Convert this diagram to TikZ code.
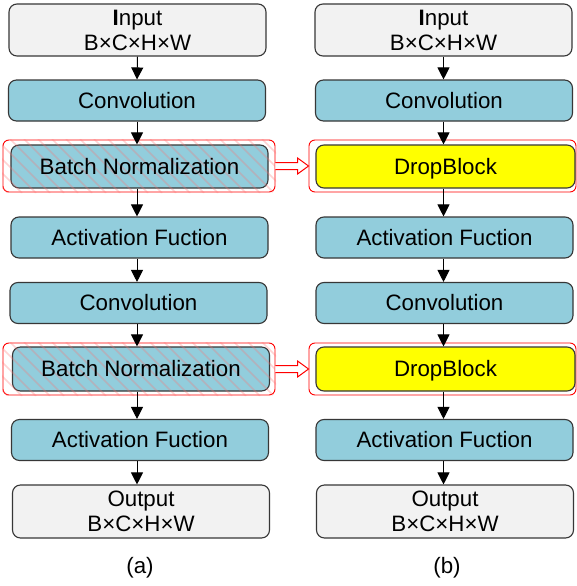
\documentclass[tikz,border=0pt]{standalone}
\usepackage{fontspec}
\setmainfont{Liberation Sans}
\usetikzlibrary{arrows.meta,calc}
\definecolor{boxblue}{RGB}{146,205,220}
\definecolor{boxgray}{RGB}{242,242,242}
\definecolor{edgegray}{RGB}{55,55,55}
\definecolor{dbyellow}{RGB}{255,255,0}
\begin{document}
\begin{tikzpicture}[x=1pt,y=-1pt,
  base/.style={draw=edgegray, line width=1.1pt, rounded corners=8pt, align=center,
    inner sep=0pt, font=\fontsize{22.3}{25}\selectfont, minimum width=257pt},
  one/.style={text height=20.2pt, text depth=4.7pt},
  graybox/.style={base, fill=boxgray, minimum height=52pt},
  bluebox/.style={base, one, fill=boxblue, minimum height=41pt},
  yellowbox/.style={base, one, fill=dbyellow, minimum height=43pt, minimum width=259pt},
  redbox/.style={draw=red, line width=0.9pt, rounded corners=6pt, inner sep=0pt},
  flow/.style={-{Triangle[length=12pt,width=12pt]}, line width=1pt, black},
  hollow/.style={draw=red, fill=white, line width=1pt, line join=miter},
  stripe/.style={red!55, line width=1.6pt, opacity=0.3},
  lab/.style={font=\fontsize{22.3}{25}\selectfont}
]
\useasboundingbox (0,0) rectangle (577,586);
\fill[white] (0,0) rectangle (577,586);

% ---------- left column (a) ----------
\node[graybox] (ain) at (137.5,30) {\textbf{I}nput\\B×C×H×W};
\node[bluebox] (aconv1) at (137,100.5) {Convolution};
\node[redbox, minimum width=272pt, minimum height=52pt] (abnout1) at (139,166) {};
\node[bluebox, minimum height=43pt] (abn1) at (139.5,166.5) {};
\begin{scope}
  \clip[rounded corners=6pt] (2,139) rectangle (276,193);
  \foreach \k in {-60,-46,...,290} {
    \draw[stripe] (\k,139) -- ++(54,54);
  }
\end{scope}
\node[font=\fontsize{22.3}{25}\selectfont, one, inner sep=0pt] (abn1t) at (abn1) {Batch Normalization};
\node[bluebox] (aact1) at (139.5,237.5) {Activation Fuction};
\node[bluebox] (aconv2) at (138.5,303) {Convolution};
\node[redbox, minimum width=272pt, minimum height=52pt] (abnout2) at (139,369) {};
\node[bluebox, minimum height=44pt] (abn2) at (141,369) {};
\begin{scope}
  \clip[rounded corners=6pt] (2,342) rectangle (276,396);
  \foreach \k in {-60,-46,...,290} {
    \draw[stripe] (\k,342) -- ++(54,54);
  }
\end{scope}
\node[font=\fontsize{22.3}{25}\selectfont, one, inner sep=0pt] (abn2t) at (abn2) {Batch Normalization};
\node[bluebox] (aact2) at (140,440) {Activation Fuction};
\node[graybox, minimum height=53pt] (aout) at (141,511.5) {Output\\B×C×H×W};
\node[lab] (alab) at (140,568) {(a)};

\draw[flow] (ain.south) -- (aconv1.north);
\draw[flow] (aconv1.south) -- (aconv1.south |- abn1.north);
\draw[flow] (aconv1.south |- abn1.south) -- (aconv1.south |- aact1.north);
\draw[flow] (aconv1.south |- aact1.south) -- (aconv1.south |- aconv2.north);
\draw[flow] (aconv1.south |- aconv2.south) -- (aconv1.south |- abn2.north);
\draw[flow] (aconv1.south |- abn2.south) -- (aconv1.south |- aact2.north);
\draw[flow] (aconv1.south |- aact2.south) -- (aconv1.south |- aout.north);

% ---------- right column (b) ----------
\node[graybox] (bin) at (443.5,30) {\textbf{I}nput\\B×C×H×W};
\node[bluebox] (bconv1) at (444,100.5) {Convolution};
\node[redbox, minimum width=267pt, minimum height=52pt] (bdbout1) at (442.5,166) {};
\node[yellowbox] (bdb1) at (445.5,166.5) {DropBlock};
\node[bluebox] (bact1) at (444.5,237.5) {Activation Fuction};
\node[bluebox] (bconv2) at (444.5,303) {Convolution};
\node[redbox, minimum width=267pt, minimum height=52pt] (bdbout2) at (442.5,369) {};
\node[yellowbox, minimum height=44pt] (bdb2) at (445.5,369) {DropBlock};
\node[bluebox] (bact2) at (444.5,440) {Activation Fuction};
\node[graybox, minimum height=53pt] (bout) at (445,511.5) {Output\\B×C×H×W};
\node[lab] (blab) at (447,568) {(b)};

\draw[flow] (bin.south) -- (bin.south |- bconv1.north);
\draw[flow] (bin.south |- bconv1.south) -- (bin.south |- bdb1.north);
\draw[flow] (bin.south |- bdb1.south) -- (bin.south |- bact1.north);
\draw[flow] (bin.south |- bact1.south) -- (bin.south |- bconv2.north);
\draw[flow] (bin.south |- bconv2.south) -- (bin.south |- bdb2.north);
\draw[flow] (bin.south |- bdb2.south) -- (bin.south |- bact2.north);
\draw[flow] (bin.south |- bact2.south) -- (bin.south |- bout.north);

% ---------- hollow arrows ----------
\foreach \src/\dst in {abnout1/bdbout1, abnout2/bdbout2} {
  \coordinate (s) at (\src.east);
  \coordinate (t) at (\dst.west);
  \draw[hollow] ($(s)+(0,-3.5)$) -- ($(t)+(-11,-3.5)$) -- ($(t)+(-11,-8)$) -- (t)
    -- ($(t)+(-11,8)$) -- ($(t)+(-11,3.5)$) -- ($(s)+(0,3.5)$);
}
\end{tikzpicture}
\end{document}
